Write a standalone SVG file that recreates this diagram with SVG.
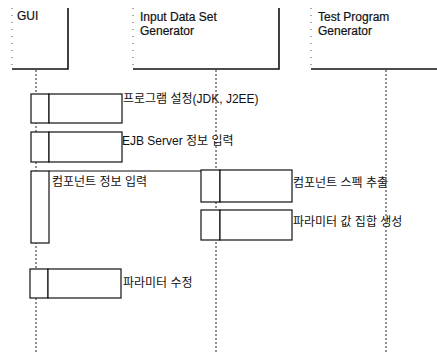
<svg xmlns="http://www.w3.org/2000/svg" width="437" height="353" viewBox="0 0 437 353">
<style>
.hdr{fill:none;stroke:#111;stroke-width:1.6}
.faint{fill:none;stroke:#555;stroke-width:1;stroke-dasharray:1 6}
.life{fill:none;stroke:#222;stroke-width:1;stroke-dasharray:2 2}
.box{fill:#fff;stroke:#111;stroke-width:1.2}
.t{font-family:"Liberation Sans",Arial,sans-serif;font-size:12px;fill:#111;stroke:#111;stroke-width:0.2}
.k{font-family:"Liberation Sans","Noto Sans CJK KR",sans-serif;font-size:12px;fill:#111}
.msg{fill:none;stroke:#111;stroke-width:1.2}
</style>
<rect width="437" height="353" fill="#fff"/>
<g id="lifelines">
<line class="life" x1="36" y1="70" x2="36" y2="353"/>
<line class="life" x1="216" y1="70" x2="216" y2="353"/>
<line class="life" x1="386" y1="70" x2="386" y2="353"/>
</g>
<g id="gui">
<path class="faint" d="M12 8 V70"/>
<path class="hdr" d="M12 69 H68 V8"/>
<text class="t" x="17" y="20">GUI</text>
</g>
<g id="input-data-set-generator">
<path class="faint" d="M133 8 V70"/>
<path class="hdr" d="M133 69 H279 V8"/>
<text class="t" x="140" y="21">Input Data Set</text>
<text class="t" x="140" y="35">Generator</text>
</g>
<g id="test-program-generator">
<path class="faint" d="M311 8 V70"/>
<path class="hdr" d="M311 69 H437"/>
<text class="t" x="318" y="21">Test Program</text>
<text class="t" x="318" y="35">Generator</text>
</g>
<g id="connectors">
<line class="msg" x1="49" y1="171" x2="201" y2="171"/>
</g>
<g id="act-program-setup">
<rect class="box" x="31" y="94" width="18" height="29"/>
<rect class="box" x="49" y="94" width="73" height="29"/>
<text class="k" x="123" y="103">프로그램 설정(JDK, J2EE)</text>
</g>
<g id="act-ejb-server">
<rect class="box" x="31" y="132" width="18" height="30"/>
<rect class="box" x="49" y="132" width="73" height="30"/>
<text class="k" x="122" y="145">EJB Server 정보 입력</text>
</g>
<g id="act-component-input">
<rect class="box" x="31" y="171" width="18" height="72"/>
<text class="k" x="52" y="186">컴포넌트 정보 입력</text>
</g>
<g id="act-spec-extract">
<rect class="box" x="201" y="170" width="19" height="32"/>
<rect class="box" x="220" y="170" width="72" height="32"/>
<text class="k" x="293" y="187">컴포넌트 스펙 추출</text>
</g>
<g id="act-param-set">
<rect class="box" x="201" y="210" width="19" height="30"/>
<rect class="box" x="220" y="210" width="72" height="30"/>
<text class="k" x="293" y="226">파라미터 값 집합 생성</text>
</g>
<g id="act-param-edit">
<rect class="box" x="30" y="269" width="18" height="29"/>
<rect class="box" x="48" y="269" width="73" height="29"/>
<text class="k" x="123" y="287">파라미터 수정</text>
</g>
</svg>
